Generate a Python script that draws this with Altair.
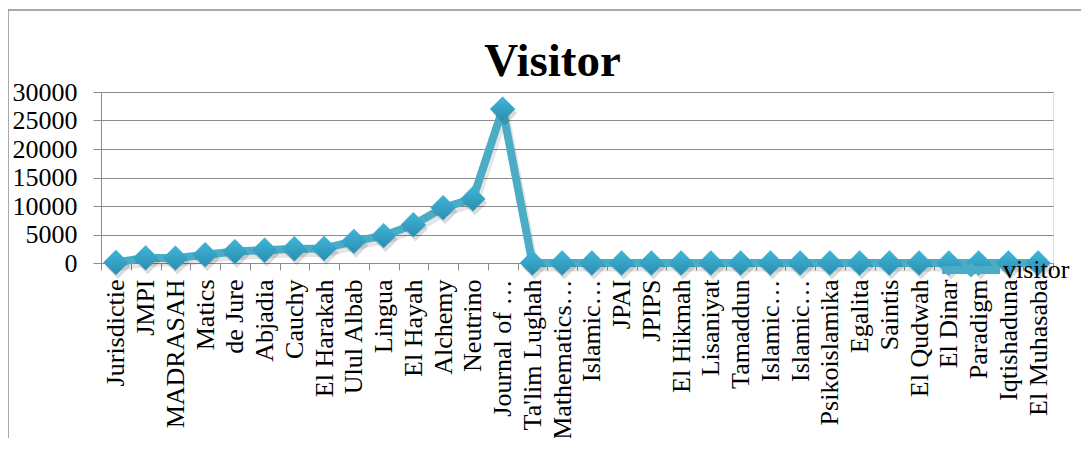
import json
import altair as alt
import pandas as pd

journals = [
    "Jurisdictie", "JMPI", "MADRASAH", "Matics", "de Jure", "Abjadia", "Cauchy",
    "El Harakah", "Ulul Albab", "Lingua", "El Hayah", "Alchemy", "Neutrino",
    "Journal of \u2026", "Ta'lim Lughah", "Mathematics\u2026", "Islamic\u2026", "JPAI",
    "JPIPS", "El Hikmah", "Lisaniyat", "Tamaddun", "Islamic\u2026", "Islamic\u2026",
    "Psikoislamika", "Egalita", "Saintis", "El Qudwah", "El Dinar", "Paradigm",
    "Iqtishaduna", "El Muhasaba",
]
visitors = [
    100, 900, 850, 1450, 2000, 2250, 2500, 2550, 3800, 4800, 6700, 9700, 11250,
    27000, 0, 0, 0, 0, 0, 0, 0, 0, 0, 0, 0, 0, 0, 0, 0, 0, 0, 0,
]
y_ticks = [0, 5000, 10000, 15000, 20000, 25000, 30000]
series_name = "visitor"

df = pd.DataFrame({
    "idx": list(range(len(journals))),
    "journal": journals,
    "visitors": visitors,
    "series": [series_name] * len(journals),
})

FONT = "Liberation Serif"
LINE = "#4bacc6"
GRID = "#8c8c8c"
W, H = 952, 171

label_expr = json.dumps(journals) + "[datum.value]"

x_enc = alt.X(
    "idx:O",
    scale=alt.Scale(type="band", paddingInner=0, paddingOuter=0),
    axis=alt.Axis(
        title=None, labelExpr=label_expr, labelAngle=-90, labelFont=FONT,
        labelFontSize=26, labelColor="black", tickBand="extent", tickSize=7,
        tickColor=GRID, domainColor=GRID, labelPadding=9, grid=False,
        labelOverlap=False, labelLimit=0,
    ),
)
y_enc = alt.Y(
    "visitors:Q",
    scale=alt.Scale(domain=[0, 30000], nice=False),
    axis=alt.Axis(
        title=None, values=y_ticks, grid=True, gridColor=GRID, gridWidth=1.2,
        tickSize=8, tickColor=GRID, domainColor=GRID, labelFont=FONT,
        labelFontSize=26, labelColor="black", labelPadding=16, format="d",
    ),
)

base = alt.Chart(df)

line_shadow = base.mark_line(
    color="#000000", opacity=0.10, strokeWidth=9, xOffset=2, yOffset=4,
    strokeJoin="round", strokeCap="round",
).encode(x=x_enc, y=y_enc)

line = base.mark_line(
    strokeWidth=8, strokeJoin="round", strokeCap="round",
).encode(
    x=x_enc, y=y_enc,
    color=alt.Color(
        "series:N",
        scale=alt.Scale(range=[LINE]),
        legend=alt.Legend(
            title=None, orient="none", legendX=841, legendY=149, padding=0,
            symbolType="M-1,-0.14L1,-0.14L1,0.14L-1,0.14Z M0,-0.26L0.26,0L0,0.26L-0.26,0Z",
            symbolSize=3364, symbolFillColor=LINE, symbolStrokeWidth=0,
            symbolStrokeColor=LINE,
            labelFont=FONT, labelFontSize=26, labelColor="black", labelOffset=3,
        ),
    ),
)

point_shadow = base.mark_point(
    shape="diamond", filled=True, color="#000000", opacity=0.14, size=620,
    xOffset=2, yOffset=4,
).encode(x=x_enc, y=y_enc)

points = base.mark_point(
    shape="diamond", filled=True, size=620, opacity=1,
    fill=alt.Gradient(
        gradient="linear",
        stops=[alt.GradientStop(color="#40b6d8", offset=0),
               alt.GradientStop(color="#2a8db0", offset=1)],
        x1=0, x2=0, y1=0, y2=1,
    ),
    stroke="#3aa9cc", strokeWidth=0.5,
).encode(x=x_enc, y=y_enc)

frame_df = pd.DataFrame({"a": [0]})
frame_top = alt.Chart(frame_df).mark_rule(color=GRID, strokeWidth=1.5).encode(
    x=alt.value(-93), x2=alt.value(980), y=alt.value(-82)
)
frame_left = alt.Chart(frame_df).mark_rule(color=GRID, strokeWidth=1.5).encode(
    x=alt.value(-93), y=alt.value(-82), y2=alt.value(352)
)

chart = alt.layer(
    frame_top, frame_left, line_shadow, line, point_shadow, points
).properties(
    width=W, height=H,
    padding={"left": 93, "top": 84, "right": 28, "bottom": 175},
    autosize=alt.AutoSizeParams(type="none"),
    title=alt.TitleParams(
        "Visitor", font=FONT, fontSize=47, fontWeight="bold", color="black",
        anchor="middle", dx=-24.5, baseline="alphabetic", offset=-114,
    ),
).configure_view(stroke=None).configure(background="white")

chart.save("out.html", embed_options={"renderer": "svg", "actions": False})
